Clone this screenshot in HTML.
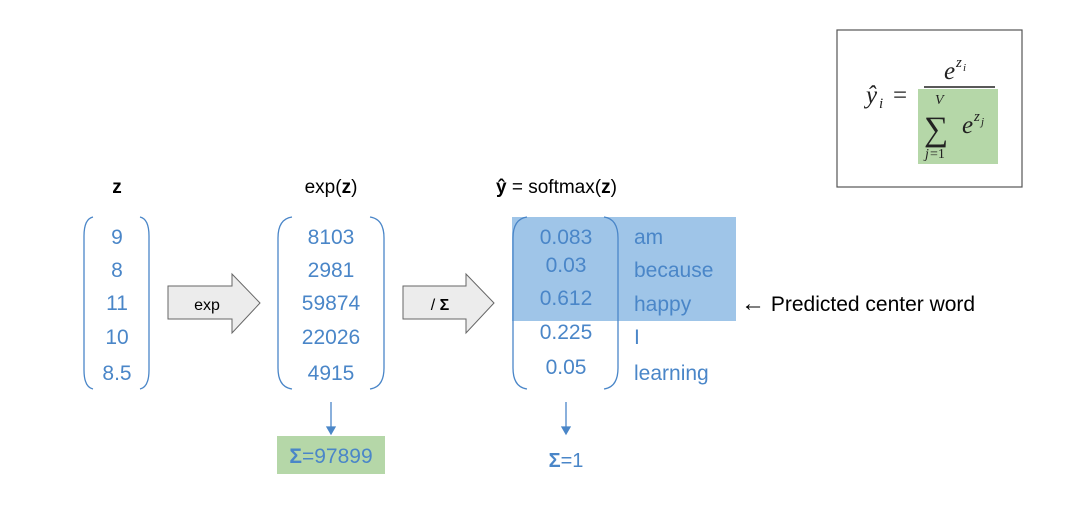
<!DOCTYPE html>
<html><head><style>
body{margin:0;background:#fff;}
svg{display:block;font-family:"Liberation Sans","DejaVu Sans",sans-serif;}
.v{fill:#4a86c8;font-size:21px;text-anchor:middle;}
.w{fill:#4a86c8;font-size:21px;}
.h{fill:#000;font-size:19px;text-anchor:middle;}
.m{font-family:"Liberation Serif","DejaVu Serif",serif;fill:#222;font-style:italic;}
</style></head><body>
<svg width="1086" height="520" viewBox="0 0 1086 520">
<rect x="837" y="30" width="185" height="157" fill="none" stroke="#555" stroke-width="1.2"/>
<rect x="918" y="89" width="80" height="75" fill="#b5d7a8"/>
<text class="m" x="866" y="103" font-size="25">ŷ</text>
<text class="m" x="879" y="108" font-size="15">i</text>
<text x="893" y="103" font-size="25" font-family="Liberation Serif,serif" fill="#222">=</text>
<text class="m" x="944" y="79" font-size="25">e</text>
<text class="m" x="956" y="67" font-size="15">z</text>
<text class="m" x="963" y="71" font-size="11">i</text>
<line x1="924" y1="87" x2="995" y2="87" stroke="#222" stroke-width="1.5"/>
<text class="m" x="935" y="104" font-size="14">V</text>
<text x="924" y="140" font-size="34" font-family="Liberation Serif,serif" fill="#222">∑</text>
<text class="m" x="962" y="133" font-size="25">e</text>
<text class="m" x="974" y="121" font-size="15">z</text>
<text class="m" x="981" y="125" font-size="11">j</text>
<text class="m" x="925" y="158" font-size="14">j</text><text x="930" y="158" font-size="14" font-family="Liberation Serif,serif" fill="#222">=1</text>

<text class="h" x="117" y="193" font-weight="bold">z</text>
<text class="h" x="331" y="193">exp(<tspan font-weight="bold">z</tspan>)</text>
<text x="496" y="193" font-size="19" fill="#000"><tspan font-weight="bold">ŷ</tspan> = softmax(<tspan font-weight="bold">z</tspan>)</text>

<rect x="512" y="217" width="224" height="104" fill="#9fc5e8"/>

<g fill="none" stroke="#4a86c8" stroke-width="1.3">
<path d="M93 217 Q84 219 84 236 V370 Q84 387 93 389"/>
<path d="M140 217 Q149 219 149 236 V370 Q149 387 140 389"/>
<path d="M292 217 Q278 219 278 238 V368 Q278 387 292 389"/>
<path d="M370 217 Q384 219 384 238 V368 Q384 387 370 389"/>
<path d="M527 217 Q513 219 513 238 V368 Q513 387 527 389"/>
<path d="M604 217 Q618 219 618 238 V368 Q618 387 604 389"/>
</g>

<text class="v" x="117" y="244">9</text><text class="v" x="117" y="277">8</text><text class="v" x="117" y="310">11</text><text class="v" x="117" y="344">10</text><text class="v" x="117" y="380">8.5</text>
<text class="v" x="331" y="244">8103</text><text class="v" x="331" y="277">2981</text><text class="v" x="331" y="310">59874</text><text class="v" x="331" y="344">22026</text><text class="v" x="331" y="380">4915</text>
<text class="v" x="566" y="244">0.083</text><text class="v" x="566" y="272">0.03</text><text class="v" x="566" y="305">0.612</text><text class="v" x="566" y="339">0.225</text><text class="v" x="566" y="374">0.05</text>
<text class="w" x="634" y="244">am</text><text class="w" x="634" y="277">because</text><text class="w" x="634" y="311">happy</text><text class="w" x="634" y="344">I</text><text class="w" x="634" y="380">learning</text>
<text x="741" y="311" font-size="21" fill="#000"><tspan font-size="24">←</tspan> Predicted center word</text>

<g fill="#ececec" stroke="#666" stroke-width="1">
<path d="M168 286 H232 V274 L260 303 L232 333 V319 H168 Z"/>
<path d="M403 286 H466 V274 L494 303 L466 333 V319 H403 Z"/>
</g>
<text x="207" y="310" font-size="16" fill="#000" text-anchor="middle">exp</text>
<text x="440" y="310" font-size="16" fill="#000" text-anchor="middle">/ <tspan font-weight="bold">Σ</tspan></text>

<g stroke="#4a86c8" stroke-width="1.3" fill="#4a86c8">
<line x1="331" y1="402" x2="331" y2="428"/><path d="M327 427 L335 427 L331 434 Z"/>
<line x1="566" y1="402" x2="566" y2="428"/><path d="M562 427 L570 427 L566 434 Z"/>
</g>
<rect x="277" y="436" width="108" height="38" fill="#b5d7a8"/>
<text class="v" x="331" y="463"><tspan font-weight="bold">Σ</tspan>=97899</text>
<text class="v" x="566" y="467" style="font-size:20px"><tspan font-weight="bold">Σ</tspan>=1</text>
</svg>
</body></html>
